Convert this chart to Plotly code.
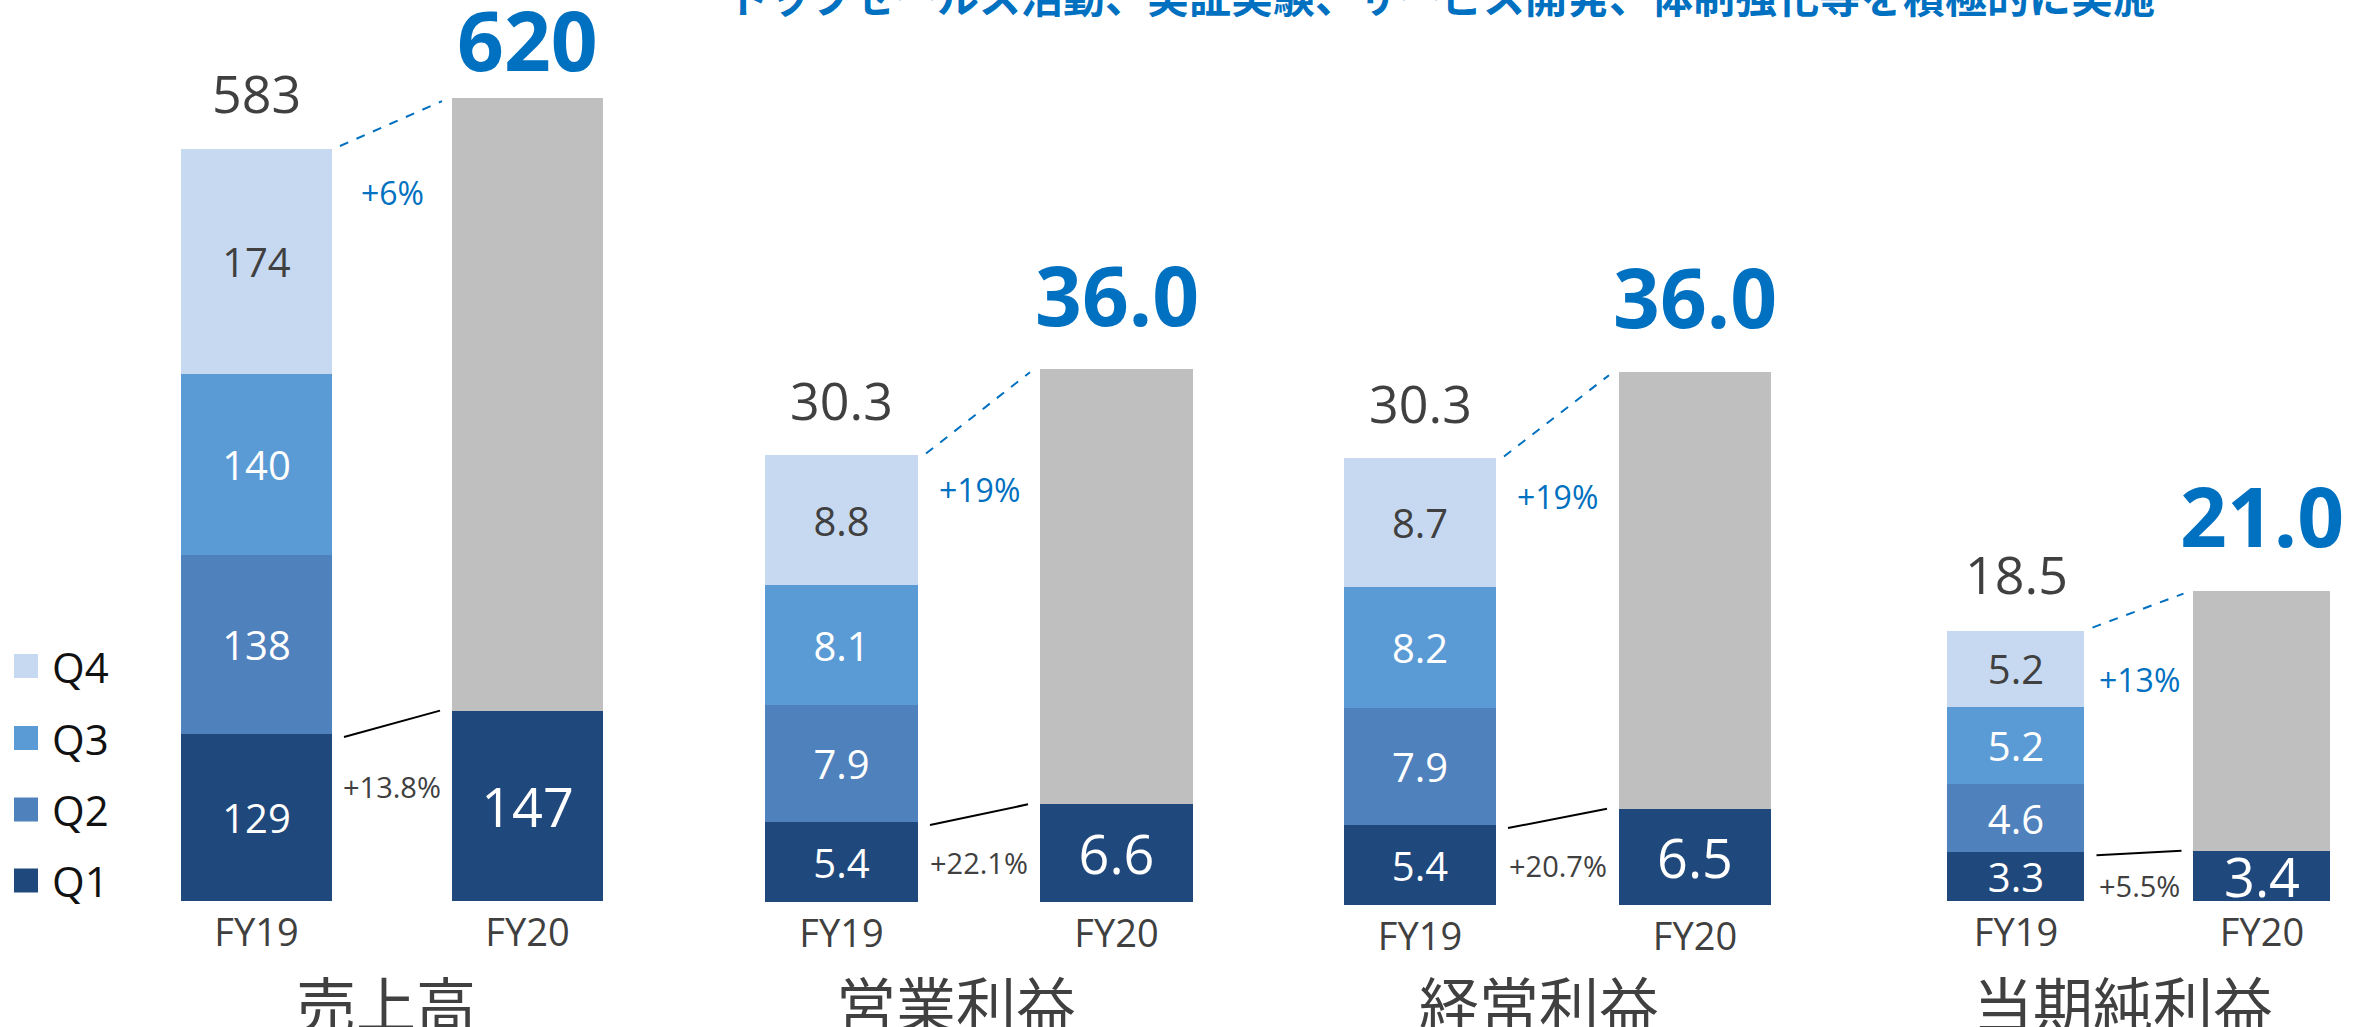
import plotly.graph_objects as go

# ---------------- data ----------------
years = ["FY19", "FY20"]
quarters = ["Q1", "Q2", "Q3", "Q4"]
metrics = ["売上高", "営業利益", "経常利益", "当期純利益"]

fy19_q1 = [129, 5.4, 5.4, 3.3]
fy19_q2 = [138, 7.9, 7.9, 4.6]
fy19_q3 = [140, 8.1, 8.2, 5.2]
fy19_q4 = [174, 8.8, 8.7, 5.2]
fy19_total = [583, 30.3, 30.3, 18.5]

fy20_q1 = [147, 6.6, 6.5, 3.4]
fy20_total = [620, 36.0, 36.0, 21.0]

growth_total = ["+6%", "+19%", "+19%", "+13%"]
growth_q1 = ["+13.8%", "+22.1%", "+20.7%", "+5.5%"]
value_fmt = [".0f", ".1f", ".1f", ".1f"]

headline = "トップセールス活動、実証実験、サービス開発、体制強化等を積極的に実施"

# ---------------- styles / layout geometry ----------------
W, H = 2368, 1027
FONT = "Open Sans, Noto Sans CJK JP, sans-serif"
JFONT = "Noto Sans CJK JP, sans-serif"
DARK = "#404040"
BLUE = "#0070C0"
q_colors = {"Q1": "#1F487C", "Q2": "#4F81BD", "Q3": "#5B9BD5", "Q4": "#C6D9F1"}
GRAY = "#BFBFBF"

# panel geometry in pixels: bar centres, bar width, baseline, pixels per unit
panels = [
    dict(c19=256.5, c20=527.5, bw=151, bottom=901, ppu=1.295),
    dict(c19=841.5, c20=1116.5, bw=153, bottom=902, ppu=14.8),
    dict(c19=1420, c20=1695, bw=152, bottom=905, ppu=14.8),
    dict(c19=2016, c20=2262, bw=137, bottom=901, ppu=14.78),
]
total_label_shift19 = 54
total_label_shift20 = [59, 75, 76, 76]
growth_total_shift = [-46, -36, -40, -52]
growth_q1_shift = [-53, -40, -40, -33]
title_x_px = [386, 956, 1539, 2123]

fig = go.Figure()
layout_axes = {}
shapes = []
annotations = []

for i, p in enumerate(panels):
    n = "" if i == 0 else str(i + 1)
    xa, ya = "x" + n, "y" + n
    s = p["c20"] - p["c19"]
    w = p["bw"] / s
    fmt = value_fmt[i]

    layout_axes["xaxis" + n] = dict(
        domain=[(p["c19"] - 0.4 * s) / W, (p["c20"] + 0.4 * s) / W],
        range=[-0.4, 1.4], type="category", anchor=ya,
        showgrid=False, zeroline=False, showline=False, ticks="",
        ticklabelstandoff=6,
        tickfont=dict(size=38, color=DARK, family=FONT), fixedrange=True,
    )
    layout_axes["yaxis" + n] = dict(
        domain=[(H - p["bottom"]) / H, 1],
        range=[0, p["bottom"] / p["ppu"]], anchor=xa,
        visible=False, showgrid=False, zeroline=False, fixedrange=True,
    )

    series = {
        "Q1": ([years[0], years[1]], [fy19_q1[i], fy20_q1[i]]),
        "Q2": ([years[0]], [fy19_q2[i]]),
        "Q3": ([years[0]], [fy19_q3[i]]),
        "Q4": ([years[0]], [fy19_q4[i]]),
    }
    for q in quarters:
        xs, ys = series[q]
        if q == "Q1":
            sizes = [40, 54]
        else:
            sizes = [40] * len(xs)
        tcolor = DARK if q == "Q4" else "white"
        fig.add_trace(go.Bar(
            x=xs, y=ys, name=q, xaxis=xa, yaxis=ya, width=w,
            marker=dict(color=q_colors[q], line=dict(width=0)),
            texttemplate="%{y:" + fmt + "}", textposition="inside",
            insidetextanchor="middle", constraintext="none",
            textfont=dict(size=sizes, color=tcolor, family=FONT),
            showlegend=False, hoverinfo="skip",
        ))
    fig.add_trace(go.Bar(
        x=[years[1]], y=[fy20_total[i] - fy20_q1[i]], name="残り",
        xaxis=xa, yaxis=ya, width=w,
        marker=dict(color=GRAY, line=dict(width=0)),
        showlegend=False, hoverinfo="skip",
    ))

    # totals
    annotations.append(dict(
        x=years[0], y=fy19_total[i], xref=xa, yref=ya, showarrow=False,
        text=format(fy19_total[i], fmt), yanchor="middle", yshift=total_label_shift19,
        font=dict(size=52, color=DARK, family=FONT),
    ))
    annotations.append(dict(
        x=years[1], y=fy20_total[i], xref=xa, yref=ya, showarrow=False,
        text="<b>" + format(fy20_total[i], fmt) + "</b>", yanchor="middle",
        yshift=total_label_shift20[i],
        font=dict(size=82, color=BLUE, family=FONT),
    ))
    # growth labels
    annotations.append(dict(
        x=0.5, y=fy19_total[i], xref=xa, yref=ya, showarrow=False,
        text=growth_total[i], yanchor="middle", yshift=growth_total_shift[i],
        font=dict(size=32, color=BLUE, family=FONT),
    ))
    annotations.append(dict(
        x=0.5, y=fy19_q1[i], xref=xa, yref=ya, showarrow=False,
        text=growth_q1[i], yanchor="middle", yshift=growth_q1_shift[i],
        font=dict(size=29, color=DARK, family=FONT),
    ))
    # connecting lines
    shapes.append(dict(
        type="line", xref=xa, yref=ya,
        x0=0.5 * w + 8 / s, y0=fy19_total[i],
        x1=1 - 0.5 * w - 10 / s, y1=fy20_total[i] - 3 / p["ppu"],
        line=dict(color=BLUE, width=2, dash="dash"),
    ))
    shapes.append(dict(
        type="line", xref=xa, yref=ya,
        x0=0.5 * w + 12 / s, y0=fy19_q1[i] - 3 / p["ppu"],
        x1=1 - 0.5 * w - 12 / s, y1=fy20_q1[i],
        line=dict(color="black", width=2),
    ))
    # metric title
    annotations.append(dict(
        x=title_x_px[i] / W, y=(H - 1001) / H, xref="paper", yref="paper",
        showarrow=False, text=metrics[i], xanchor="center", yanchor="middle",
        font=dict(size=60, color=DARK, family=JFONT),
    ))

# manual legend (Q4 on top)
legend_y_px = {"Q4": 666, "Q3": 738, "Q2": 809.5, "Q1": 880.5}
for q in quarters:
    yc = legend_y_px[q]
    shapes.append(dict(
        type="rect", xref="paper", yref="paper",
        x0=14 / W, x1=38 / W, y0=(H - yc - 12) / H, y1=(H - yc + 12) / H,
        fillcolor=q_colors[q], line=dict(width=0),
    ))
    annotations.append(dict(
        x=50 / W, y=(H - yc) / H, xref="paper", yref="paper", showarrow=False,
        text=q, xanchor="left", yanchor="middle",
        font=dict(size=42, color="#111111", family=FONT),
    ))

# cropped headline at the very top
annotations.append(dict(
    x=725 / W, y=1, xref="paper", yref="paper", showarrow=False,
    text="<b>" + headline + "</b>", xanchor="left", yanchor="middle", yshift=6,
    font=dict(size=42, color=BLUE, family=JFONT),
))

fig.update_layout(
    width=W, height=H,
    margin=dict(l=0, r=0, t=0, b=0),
    barmode="stack",
    paper_bgcolor="white", plot_bgcolor="white",
    showlegend=False,
    shapes=shapes, annotations=annotations,
    **layout_axes,
)

fig.write_html(
    "out.html",
    config={"displayModeBar": False},
    post_script="document.body.style.margin='0';document.body.style.padding='0';",
)
